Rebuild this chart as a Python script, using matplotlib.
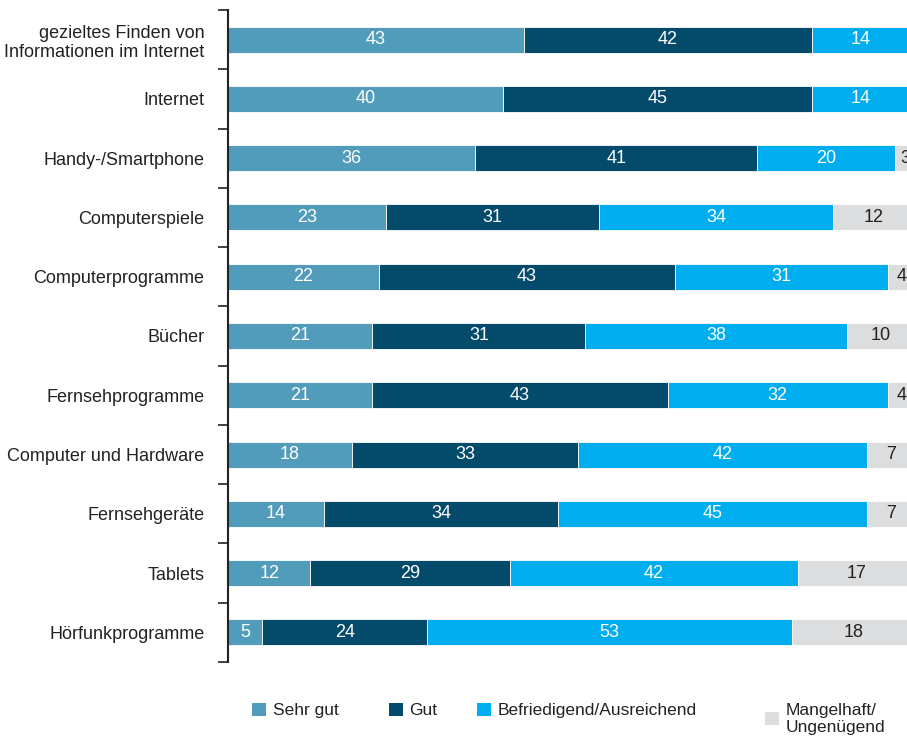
import matplotlib
matplotlib.use("Agg")
import matplotlib.pyplot as plt
from matplotlib.patches import Patch
import numpy as np

plt.rcParams['font.family'] = ['Liberation Sans Narrow', 'Liberation Sans', 'DejaVu Sans']

categories = [
    "gezieltes Finden von\nInformationen im Internet",
    "Internet",
    "Handy-/Smartphone",
    "Computerspiele",
    "Computerprogramme",
    "Bücher",
    "Fernsehprogramme",
    "Computer und Hardware",
    "Fernsehgeräte",
    "Tablets",
    "Hörfunkprogramme",
]
series_names = ["Sehr gut", "Gut", "Befriedigend/Ausreichend", "Mangelhaft/\nUngenügend"]
sehr_gut = [43, 40, 36, 23, 22, 21, 21, 18, 14, 12, 5]
gut = [42, 45, 41, 31, 43, 31, 43, 33, 34, 29, 24]
befriedigend = [14, 14, 20, 34, 31, 38, 32, 42, 45, 42, 53]
mangelhaft = [1, 1, 3, 12, 4, 10, 4, 7, 7, 17, 18]

colors = ["#529cbb", "#034a6b", "#00aeef", "#dcddde"]
text_colors = ["white", "white", "white", "#222222"]

XMAX = 98.8

fig = plt.figure(figsize=(9.07, 7.42), dpi=100)
ax = fig.add_axes([228/907, 1-662/742, 1-228/907, (662-10)/742])

n = len(categories)
y = np.arange(n)
left = np.zeros(n)
for vals, col, tcol in zip([sehr_gut, gut, befriedigend, mangelhaft], colors, text_colors):
    vals = np.array(vals, dtype=float)
    ax.barh(y, vals, left=left, height=0.44, color=col, edgecolor="white", linewidth=0.6)
    for yi, l, v in zip(y, left, vals):
        cx = l + v/2
        if cx < XMAX:
            ax.text(cx, yi, f"{int(v)}", ha="center", va="center", color=tcol, fontsize=13)
    left += vals

ax.set_xlim(0, XMAX)
ax.set_ylim(n - 0.5, -0.5)
ax.set_yticks(y)
ax.set_yticklabels(categories, fontsize=13, color="#222222")
ax.tick_params(axis="y", which="major", length=0, pad=17)
ax.set_yticks(np.arange(-0.5, n, 1), minor=True)
ax.tick_params(axis="y", which="minor", length=7, width=1.2, color="#222222")
ax.set_xticks([])
for s in ["top", "right", "bottom"]:
    ax.spines[s].set_visible(False)
ax.spines["left"].set_linewidth(1.5)
ax.spines["left"].set_color("#222222")

legend_x = [243, 380, 468, 756]
for name, col, lx in zip(series_names, colors, legend_x):
    fig.legend([Patch(facecolor=col, edgecolor="none")], [name], loc="upper left",
               bbox_to_anchor=(lx/907, 1-694/742), frameon=False, fontsize=12.5,
               handlelength=0.8, handleheight=0.8, handletextpad=0.4, borderpad=0,
               labelcolor="#222222")

fig.savefig("out.png", dpi=100)
